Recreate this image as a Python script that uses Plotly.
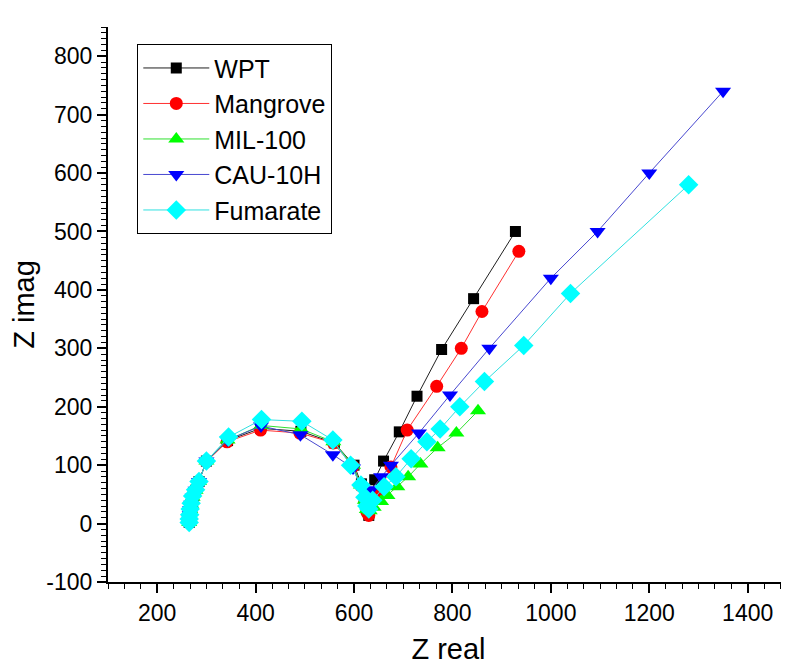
import plotly.graph_objects as go

# ---- data ----
wpt_x = [265, 265, 266, 267, 269, 272, 278, 285, 300, 343, 410, 492, 560, 600, 615, 623, 627, 630, 642, 660, 692, 728, 778, 843, 928]
wpt_y = [2, 8, 15, 24, 33, 45, 57, 72, 107, 142, 163, 158, 138, 100, 68, 40, 22, 14, 75, 107, 157, 218, 298, 385, 500]

man_x = [265, 265, 266, 267, 269, 272, 278, 285, 300, 342, 410, 490, 558, 598, 614, 622, 626, 630, 650, 675, 708, 768, 818, 860, 935]
man_y = [2, 8, 15, 24, 33, 45, 57, 72, 106, 140, 160, 155, 138, 98, 65, 38, 20, 14, 50, 97, 160, 235, 300, 363, 466]

mil_x = [265, 265, 266, 267, 269, 272, 278, 285, 300, 343, 411, 492, 558, 598, 614, 622, 626, 632, 640, 655, 668, 688, 710, 735, 770, 808, 852]
mil_y = [2, 8, 15, 24, 33, 45, 57, 72, 107, 143, 168, 162, 140, 100, 66, 40, 24, 22, 28, 38, 48, 63, 80, 102, 130, 155, 193]

cau_x = [265, 265, 266, 267, 269, 272, 278, 285, 300, 343, 411, 491, 557, 598, 614, 622, 627, 635, 655, 675, 732, 795, 875, 1000, 1095, 1200, 1350]
cau_y = [2, 8, 15, 24, 33, 45, 57, 72, 107, 143, 167, 152, 118, 95, 62, 40, 28, 58, 80, 100, 155, 220, 300, 420, 500, 600, 740]

fum_x = [265, 265, 266, 267, 269, 272, 278, 285, 300, 345, 412, 494, 557, 593, 614, 622, 626, 630, 638, 661, 685, 716, 748, 775, 815, 865, 945, 1040, 1280]
fum_y = [2, 8, 15, 25, 35, 47, 58, 72, 107, 148, 178, 175, 143, 100, 66, 45, 30, 25, 40, 63, 80, 111, 140, 162, 200, 243, 305, 394, 580]

names = ["WPT", "Mangrove", "MIL-100", "CAU-10H", "Fumarate"]

y_tick_vals = [-100, 0, 100, 200, 300, 400, 500, 600, 700, 800]
y_tick_text = ["-100", "0", "100", "200", "300", "400", "500", "600", "700", "800"]
x_tick_vals = [200, 400, 600, 800, 1000, 1200, 1400]
x_tick_text = ["200", "400", "600", "800", "1000", "1200", "1400"]

xs = [wpt_x, man_x, mil_x, cau_x, fum_x]
ys = [wpt_y, man_y, mil_y, cau_y, fum_y]

line_colors = ["#202020", "#ff3030", "#30e030", "#4848d0", "#30e0e0"]
marker_colors = ["#000000", "#ff0000", "#00ff00", "#0000ff", "#00ffff"]
symbols = ["square", "circle", "triangle-up", "triangle-down", "diamond"]
sizes = [11, 13, 14, 14, 15]

FONT = "Arial, Liberation Sans, sans-serif"

fig = go.Figure()
for n, x, y, lc, mc, s, sz in zip(names, xs, ys, line_colors, marker_colors, symbols, sizes):
    fig.add_trace(go.Scatter(
        x=x, y=y, name=n, mode="lines+markers",
        line=dict(color=lc, width=1),
        marker=dict(symbol=s, size=sz, color=mc, line=dict(width=0)),
    ))

# page body has an 8px default margin: size/margins compensate for it
fig.update_layout(
    width=781, height=657,
    margin=dict(l=100, r=0, t=19, b=83),
    paper_bgcolor="white", plot_bgcolor="white",
    font=dict(family=FONT, color="black"),
    showlegend=True,
    legend=dict(
        x=0.043, y=0.969, xanchor="left", yanchor="top",
        bordercolor="black", borderwidth=1,
        font=dict(family=FONT, size=25, color="black"),
        itemwidth=66, tracegroupgap=0,
        bgcolor="white",
    ),
    xaxis=dict(
        range=[100, 1484], autorange=False,
        showline=True, linecolor="black", linewidth=2,
        showgrid=False, zeroline=False,
        ticks="outside", ticklen=9, tickwidth=1.5, tickcolor="black",
        tickmode="array", tickvals=x_tick_vals, ticktext=x_tick_text,
        minor=dict(ticks="outside", ticklen=5, tickwidth=1.2, tickcolor="black", dtick=200/6, tick0=0),
        tickfont=dict(family=FONT, size=23),
        title=dict(text="Z real", font=dict(family=FONT, size=29), standoff=16),
    ),
    yaxis=dict(
        range=[-100, 850], autorange=False,
        showline=True, linecolor="black", linewidth=2,
        showgrid=False, zeroline=False,
        ticks="outside", ticklen=9, tickwidth=1.5, tickcolor="black",
        tickmode="array", tickvals=y_tick_vals, ticktext=y_tick_text,
        minor=dict(ticks="outside", ticklen=5, tickwidth=1.2, tickcolor="black", dtick=10, tick0=0),
        tickfont=dict(family=FONT, size=23),
        title=dict(text="Z imag", font=dict(family=FONT, size=29), standoff=10),
    ),
)

fig.write_html("out.html")
